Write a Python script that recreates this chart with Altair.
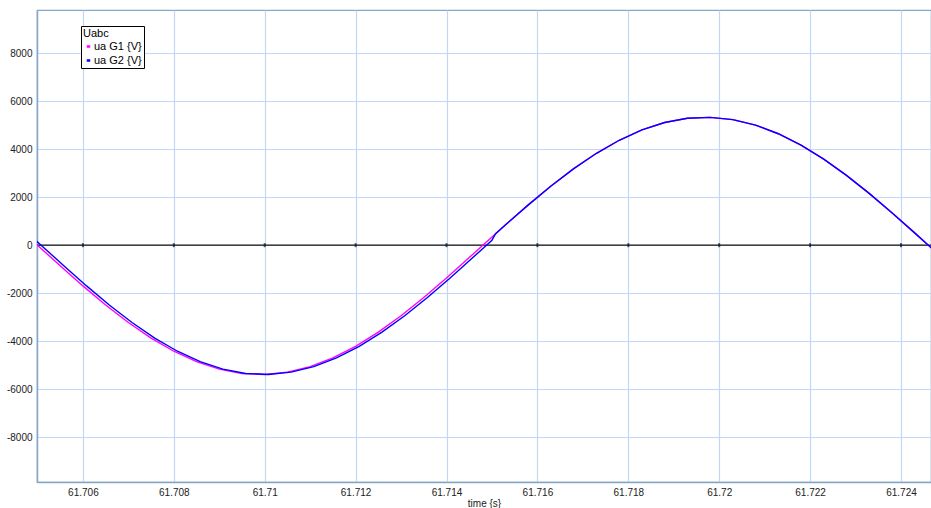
import altair as alt
import pandas as pd

# ua G1: sampled phase voltage of generator 1 (time in s, voltage in V)
t_g1 = [61.7049, 61.7050, 61.7055, 61.7060, 61.7065, 61.7070, 61.7075, 61.7080,
        61.7085, 61.7090, 61.7095, 61.7100, 61.7105, 61.7110, 61.7115, 61.7120,
        61.7125, 61.7130, 61.7135, 61.7140, 61.7145, 61.7148, 61.7153, 61.7158,
        61.7163, 61.7168, 61.7173, 61.7178, 61.7183, 61.7188, 61.7193, 61.7198,
        61.7203, 61.7208, 61.7213, 61.7218, 61.7223, 61.7228, 61.7233, 61.7238,
        61.7243, 61.7248]
u_g1 = [173, 0, -860, -1698, -2493, -3224, -3872, -4421, -4856, -5167, -5346,
        -5387, -5291, -5059, -4696, -4214, -3624, -2941, -2182, -1367, -517,
        0, 851, 1679, 2466, 3188, 3829, 4372, 4802, 5110, 5286, 5327, 5232,
        5002, 4644, 4167, 3583, 2908, 2158, 1352, 512, -341]

# ua G2: generator 2, lagging slightly until it snaps onto G1 near 61.715 s
t_g2 = [61.7049, 61.70508, 61.70558, 61.70608, 61.70658, 61.70708, 61.70758,
        61.70808, 61.70858, 61.70908, 61.70958, 61.71008, 61.71058, 61.71108,
        61.71158, 61.71208, 61.71258, 61.71308, 61.71358, 61.71408, 61.71458,
        61.71488, 61.7150, 61.71508, 61.7153, 61.7158, 61.7163, 61.7168,
        61.7173, 61.7178, 61.7183, 61.7188, 61.7193, 61.7198, 61.7203, 61.7208,
        61.7213, 61.7218, 61.7223, 61.7228, 61.7233, 61.7238, 61.7243, 61.7248]
u_g2 = [311, 0, -860, -1698, -2493, -3224, -3872, -4421, -4856, -5167, -5346,
        -5387, -5291, -5059, -4696, -4214, -3624, -2941, -2182, -1367, -517,
        0, 207, 478, 851, 1679, 2466, 3188, 3829, 4372, 4802, 5110, 5286, 5327,
        5232, 5002, 4644, 4167, 3583, 2908, 2158, 1352, 512, -341]

series_names = ["ua G1 {V}", "ua G2 {V}"]
series_colors = ["#ff00ff", "#0000ff"]

x_ticks = [61.706, 61.708, 61.71, 61.712, 61.714, 61.716, 61.718, 61.72, 61.722, 61.724]
y_ticks = [-8000, -6000, -4000, -2000, 0, 2000, 4000, 6000, 8000]
x_domain = [61.70499, 61.72466]
y_domain = [-9870, 9800]

df = pd.concat([
    pd.DataFrame({"t": t_g1, "u": u_g1, "series": series_names[0]}),
    pd.DataFrame({"t": t_g2, "u": u_g2, "series": series_names[1]}),
])
ticks_df = pd.DataFrame({"t": x_ticks, "u": 0})

grid_color = "#c0d8f2"
axis_color = "#86a6c8"
label_color = "#222222"
font = "Liberation Sans"

x_scale = alt.Scale(domain=x_domain, nice=False, zero=False)
y_scale = alt.Scale(domain=y_domain, nice=False, zero=False)

x_axis = alt.Axis(values=x_ticks, labelExpr="datum.value + ''", title="time {s}",
                  grid=True, gridColor=grid_color, gridWidth=1.2, ticks=False,
                  domainColor=axis_color, domainWidth=1.5, labelPadding=5,
                  labelFontSize=10, labelFont=font, labelColor=label_color,
                  titleFontSize=10, titleFont=font, titleFontWeight="normal",
                  titleColor=label_color, titlePadding=1, labelFlush=False)
y_axis = alt.Axis(values=y_ticks, labelExpr="datum.value + ''", title=None,
                  grid=True, gridColor=grid_color, gridWidth=1.2, ticks=False,
                  domainColor=axis_color, domainWidth=1.5, labelPadding=5,
                  labelFontSize=10, labelFont=font, labelColor=label_color)

lines = alt.Chart(df).mark_line(strokeWidth=1.4, clip=True).encode(
    x=alt.X("t:Q", scale=x_scale, axis=x_axis),
    y=alt.Y("u:Q", scale=y_scale, axis=y_axis),
    color=alt.Color("series:N",
                    scale=alt.Scale(domain=series_names, range=series_colors),
                    legend=alt.Legend(title="Uabc", orient="none", legendX=44, legendY=16,
                                      strokeColor="black", fillColor="white", padding=2,
                                      titleFontSize=11, titleFontWeight="normal", titleFont=font,
                                      titleColor="black", titlePadding=2,
                                      labelFontSize=11, labelFont=font, labelColor="black",
                                      symbolType="stroke", symbolSize=12, symbolStrokeWidth=2.5,
                                      labelOffset=0, rowPadding=2)),
    order=alt.Order("t:Q"),
)

zero_line = alt.Chart(ticks_df).mark_rule(color="#111111", strokeWidth=1.2).encode(
    y=alt.Y("mean(u):Q", scale=y_scale),
)

zero_ticks = alt.Chart(ticks_df).mark_tick(color="#111111", thickness=2, size=4).encode(
    x=alt.X("t:Q", scale=x_scale),
    y=alt.Y("u:Q", scale=y_scale),
)

chart = alt.layer(zero_line, zero_ticks, lines).properties(
    width=894,
    height=472,
    autosize=alt.AutoSizeParams(type="none"),
    padding={"left": 37, "top": 10, "right": 0, "bottom": 26},
    background="white",
).configure_view(stroke=axis_color, strokeWidth=1.2)

chart.save("out.html", embed_options={"renderer": "svg", "actions": False})
